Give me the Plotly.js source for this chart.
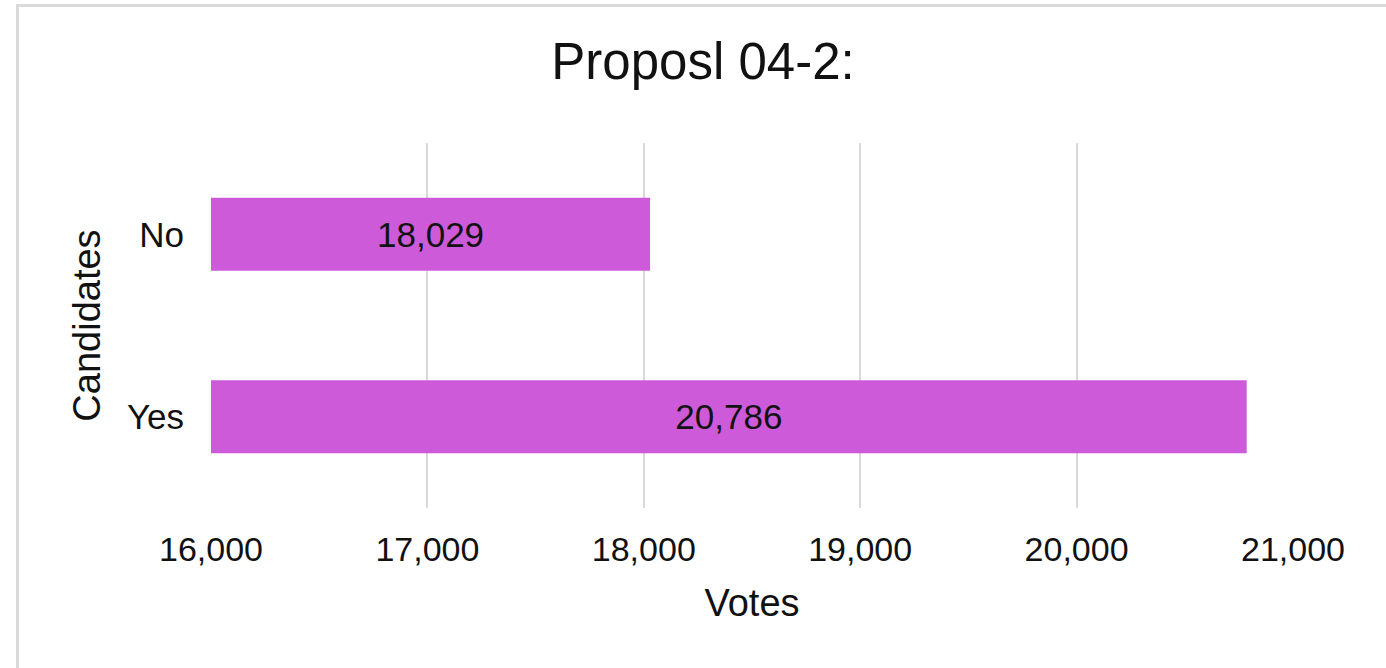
<!DOCTYPE html>
<html>
<head>
<meta charset="utf-8">
<script src="https://cdn.plot.ly/plotly-3.0.1.min.js"></script>
<style>
  html, body { margin: 0; padding: 0; overflow: hidden; background: #fff; }
  #chart { width: 1386px; height: 668px; }
  #frame { position: absolute; left: 16px; top: 4px; width: 2000px; height: 2000px;
           border: 3px solid #dadada; pointer-events: none; }
</style>
</head>
<body>
<div id="chart"></div>
<div id="frame"></div>
<script>
const categories = ['Yes', 'No'];
const votes = [20786, 18029];
const xTickValues = [16000, 17000, 18000, 19000, 20000, 21000];
const titleText = 'Proposl 04-2:';
const xTitle = 'Votes';
const yTitle = 'Candidates';
const barColor = '#CD5AD9';
const axisBase = 16000;

const font = '"Liberation Sans", Arial, sans-serif';

const trace = {
  type: 'bar',
  orientation: 'h',
  y: categories,
  x: votes.map(v => v - axisBase),
  base: axisBase,
  marker: { color: barColor, line: { width: 0 } },
  text: votes.map(v => v.toLocaleString('en-US')),
  textposition: 'inside',
  insidetextanchor: 'middle',
  textfont: { family: font, size: 35, color: '#111' },
  hoverinfo: 'none'
};

const layout = {
  width: 1386, height: 668,
  paper_bgcolor: '#fff', plot_bgcolor: '#fff',
  margin: { l: 211, r: 93, t: 143, b: 160 },
  showlegend: false,
  bargap: 0.6,
  title: {
    text: titleText,
    font: { family: font, size: 51, color: '#111' },
    x: 703 / 1386, xanchor: 'center', xref: 'container',
    y: 1 - 61 / 668, yanchor: 'middle', yref: 'container'
  },
  xaxis: {
    range: [16000, 21000],
    tickvals: xTickValues,
    ticktext: xTickValues.map(v => v.toLocaleString('en-US')),
    showgrid: true, gridcolor: '#d9d9d9', gridwidth: 2,
    zeroline: false, showline: false,
    ticks: '', ticklabelstandoff: 18,
    tickfont: { family: font, size: 34, color: '#111' },
    title: { text: xTitle, font: { family: font, size: 38, color: '#111' }, standoff: 22 }
  },
  yaxis: {
    type: 'category',
    categoryorder: 'array', categoryarray: categories,
    range: [-0.5, 1.5],
    showgrid: false, zeroline: false, showline: false,
    ticks: '', ticklabelstandoff: 26,
    tickfont: { family: font, size: 35, color: '#111' },
    title: { text: yTitle, font: { family: font, size: 38, color: '#111' }, standoff: 14 }
  }
};

Plotly.newPlot('chart', [trace], layout, { staticPlot: true, displayModeBar: false });
</script>
</body>
</html>
